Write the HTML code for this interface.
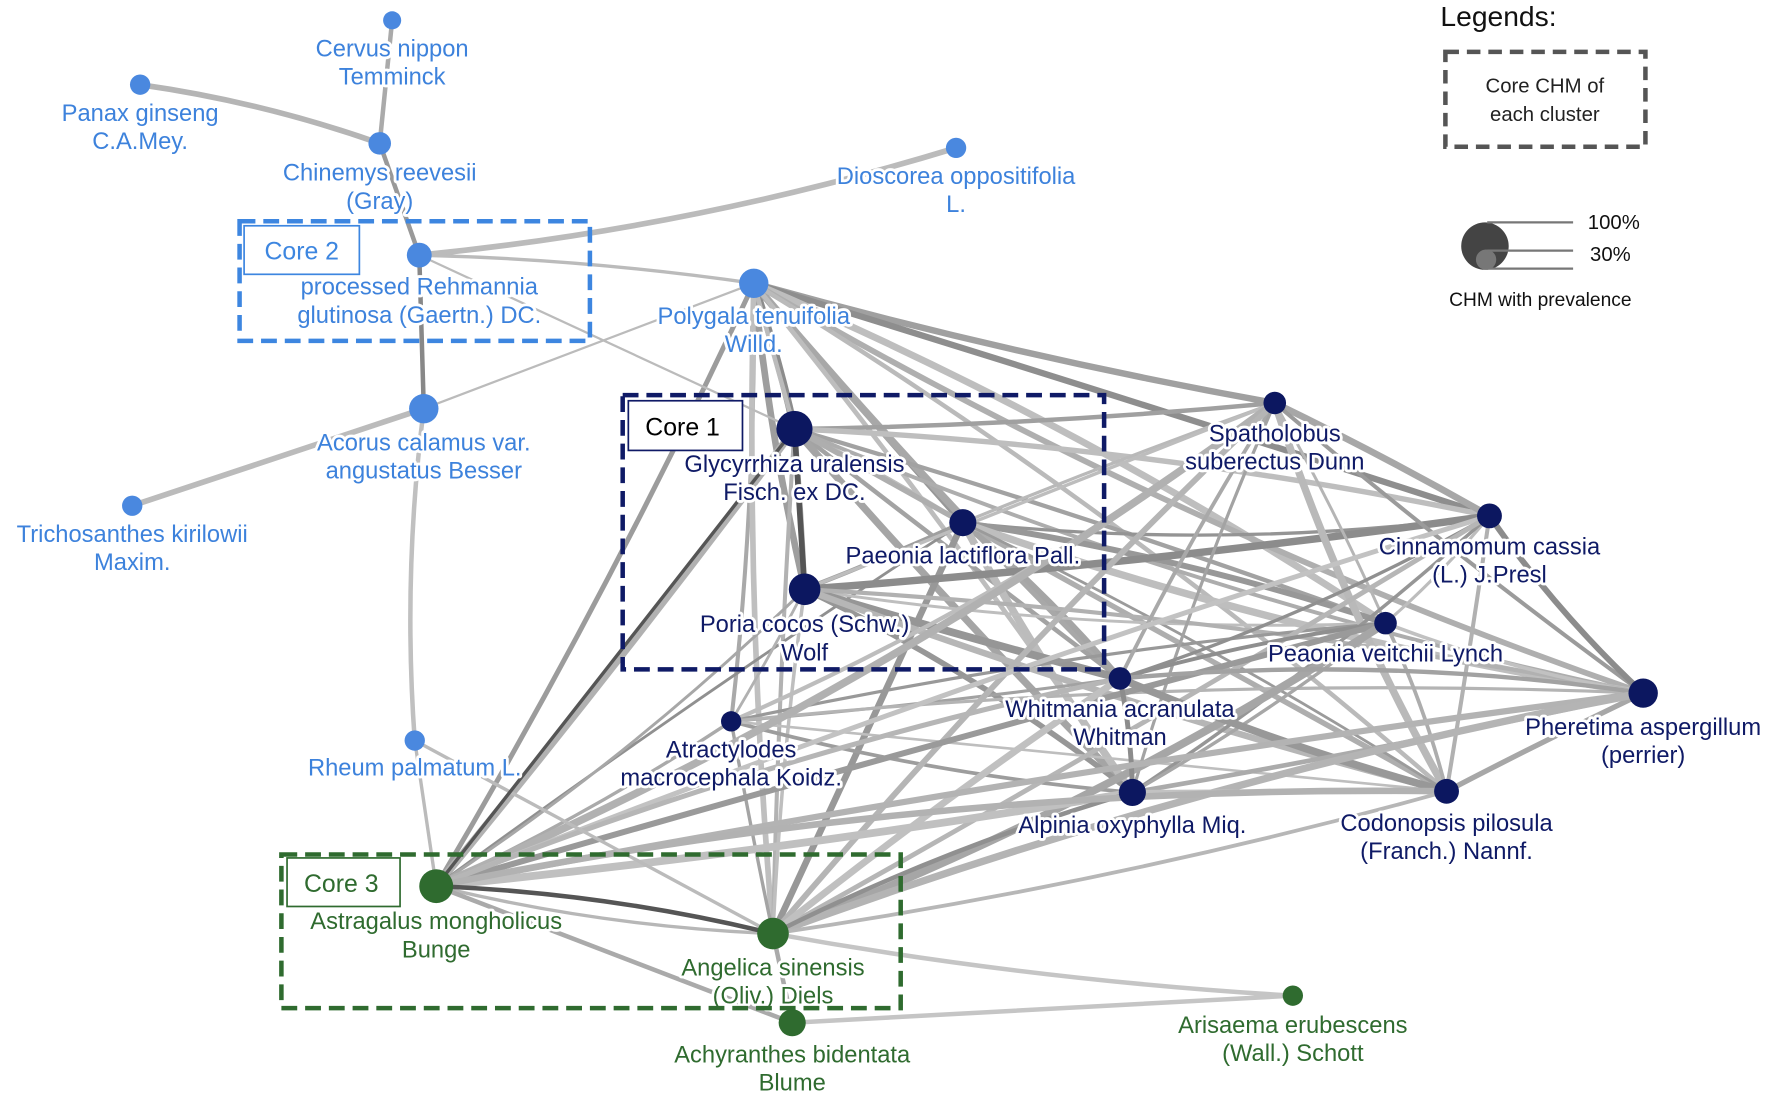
<!DOCTYPE html>
<html><head><meta charset="utf-8"><style>
html,body{margin:0;padding:0;background:#fff;}
svg{display:block;}
text{font-family:"Liberation Sans",Arial,sans-serif;font-size:21px;text-anchor:middle;}
.lb{paint-order:stroke;stroke:#fff;stroke-width:5px;stroke-linejoin:round;}
</style></head><body>
<svg id="s" width="1772" height="1095" viewBox="0 0 1568 970" preserveAspectRatio="none" xmlns="http://www.w3.org/2000/svg">
<g id="edges" fill="none" stroke-linecap="round"></g>
<g id="nodes"></g>
<g id="labels"></g>
<rect x="212" y="196" width="310" height="106" fill="none" stroke="#3d86e0" stroke-width="4" stroke-dasharray="14,7"/>
<rect x="216" y="200" width="102" height="43" fill="#fff" stroke="#3d86e0" stroke-width="1.5"/>
<text x="267" y="230" style="font-size:22px;fill:#3d86e0">Core 2</text>
<rect x="551" y="350" width="426" height="243" fill="none" stroke="#0f1a66" stroke-width="4" stroke-dasharray="14,7"/>
<rect x="556" y="355" width="101" height="44" fill="#fff" stroke="#0f1a66" stroke-width="1.5"/>
<text x="604" y="386" style="font-size:22px;fill:#000">Core 1</text>
<rect x="249" y="757" width="548" height="136" fill="none" stroke="#2f6b2f" stroke-width="4" stroke-dasharray="14,7"/>
<rect x="254" y="760" width="100" height="43" fill="#fff" stroke="#2f6b2f" stroke-width="1.5"/>
<text x="302" y="790" style="font-size:22px;fill:#2f6b2f">Core 3</text>
<text x="1326" y="23" style="font-size:25px;fill:#111">Legends:</text>
<rect x="1279" y="46" width="177" height="84" fill="none" stroke="#555" stroke-width="4" stroke-dasharray="12,7"/>
<text x="1367" y="82" style="font-size:18px;fill:#222">Core CHM of</text>
<text x="1367" y="107" style="font-size:18px;fill:#222">each cluster</text>
<circle cx="1314" cy="218" r="21" fill="#444"/>
<circle cx="1315" cy="230" r="9" fill="#777"/>
<line x1="1316" y1="197" x2="1392" y2="197" stroke="#777" stroke-width="2"/>
<line x1="1316" y1="222" x2="1392" y2="222" stroke="#777" stroke-width="2"/>
<line x1="1316" y1="238" x2="1392" y2="238" stroke="#777" stroke-width="2"/>
<text x="1428" y="203" style="font-size:18px;fill:#111">100%</text>
<text x="1425" y="231" style="font-size:18px;fill:#111">30%</text>
<text x="1363" y="271" style="font-size:17px;fill:#111">CHM with prevalence</text>
</svg>
<script>
var N={
cer:[347,18,8,'b',['Cervus nippon','Temminck'],43],
pan:[124,75,9,'b',['Panax ginseng','C.A.Mey.'],100],
chi:[336,127,10,'b',['Chinemys reevesii','(Gray)'],153],
dio:[846,131,9,'b',['Dioscorea oppositifolia','L.'],156],
reh:[371,226,11,'b',['processed Rehmannia','glutinosa (Gaertn.) DC.'],254],
pol:[667,251,13,'b',['Polygala tenuifolia','Willd.'],280],
aco:[375,362,13,'b',['Acorus calamus var.','angustatus Besser'],392],
tri:[117,448,9,'b',['Trichosanthes kirilowii','Maxim.'],473],
rhe:[367,656,9,'b',['Rheum palmatum L.'],680],
gly:[703,380,16,'n',['Glycyrrhiza uralensis','Fisch. ex DC.'],411],
pae:[852,463,12,'n',['Paeonia lactiflora Pall.'],492],
por:[712,522,14,'n',['Poria cocos (Schw.)','Wolf'],553],
atr:[647,639,9,'n',['Atractylodes','macrocephala Koidz.'],664],
spa:[1128,357,10,'n',['Spatholobus','suberectus Dunn'],384],
cin:[1318,457,11,'n',['Cinnamomum cassia','(L.) J.Presl'],484],
pve:[1226,552,10,'n',['Peaonia veitchii Lynch'],579],
whi:[991,601,10,'n',['Whitmania acranulata','Whitman'],628],
phe:[1454,614,13,'n',['Pheretima aspergillum','(perrier)'],644],
alp:[1002,702,12,'n',['Alpinia oxyphylla Miq.'],731],
cod:[1280,701,11,'n',['Codonopsis pilosula','(Franch.) Nannf.'],729],
ast:[386,785,15,'g',['Astragalus mongholicus','Bunge'],816],
ang:[684,827,14,'g',['Angelica sinensis','(Oliv.) Diels'],857],
ach:[701,906,12,'g',['Achyranthes bidentata','Blume'],934],
ari:[1144,882,9,'g',['Arisaema erubescens','(Wall.) Schott'],908]};
var col={b:'#4a88df',n:'#0c1760',g:'#2f6b2f'};
var tcol={b:'#3d82dc',n:'#0f1a66',g:'#2f6b2f'};
var E=document.getElementById('edges'),ns='http://www.w3.org/2000/svg';
var seed=7;function r(){seed=(seed*16807)%2147483647;return seed/2147483647;}
function edge(a,b,w,c,bend){var A=N[a],B=N[b];var p=document.createElementNS(ns,'path');
var mx=(A[0]+B[0])/2,my=(A[1]+B[1])/2,dx=B[0]-A[0],dy=B[1]-A[1];bend=bend||0;
p.setAttribute('d','M'+A[0]+','+A[1]+' Q'+(mx-dy*bend)+','+(my+dx*bend)+' '+B[0]+','+B[1]);
p.setAttribute('stroke',c);p.setAttribute('stroke-width',w);E.appendChild(p);}
var C=['pol','gly','pae','por','atr','spa','cin','pve','whi','phe','alp','cod','ast','ang'];
for(var i=0;i<C.length;i++)for(var j=i+1;j<C.length;j++){
 var g=Math.floor(140+r()*55);var w=2.5+r()*4.5;
 if(C[i]=='atr'||C[j]=='atr'){if(r()<0.5)continue;w=2+r()*2;}
 edge(C[i],C[j],w.toFixed(1),'rgb('+g+','+g+','+g+')',(r()-0.5)*0.12);}
var L=[['cer','chi',4,'#aaa',0],['pan','chi',5,'#b5b5b5',-0.05],['chi','reh',4,'#999',0],['reh','dio',5,'#bbb',0.05],
['reh','pol',3,'#bbb',-0.03],['reh','aco',4,'#888',0],['aco','pol',2,'#bbb',0],['aco','tri',5,'#bbb',0],
['aco','rhe',4,'#c0c0c0',0.05],['rhe','ast',3,'#bbb',0],['rhe','ang',3,'#bbb',0],['reh','gly',2,'#bbb',0],
['ast','ang',4,'#555',-0.05],['ang','ari',4,'#c5c5c5',0.03],['ach','ari',4,'#c5c5c5',0],['ast','ach',4,'#aaa',0],
['ach','ang',4,'#aaa',0],['gly','por',5,'#555',0],['ast','gly',3,'#555',0],['pol','gly',4,'#bbb',0]];
L.forEach(function(e){edge(e[0],e[1],e[2],e[3],e[4]);});
var Nd=document.getElementById('nodes'),Lb=document.getElementById('labels');
for(var k in N){var n=N[k];var c=document.createElementNS(ns,'circle');c.setAttribute('cx',n[0]);c.setAttribute('cy',n[1]);c.setAttribute('r',n[2]);c.setAttribute('fill',col[n[3]]);Nd.appendChild(c);
n[4].forEach(function(t,i){var x=document.createElementNS(ns,'text');x.setAttribute('x',n[0]);x.setAttribute('y',n[5]+7+i*25);x.setAttribute('class','lb');x.setAttribute('fill',tcol[n[3]]);x.textContent=t;Lb.appendChild(x);});}
</script>
</body></html>
